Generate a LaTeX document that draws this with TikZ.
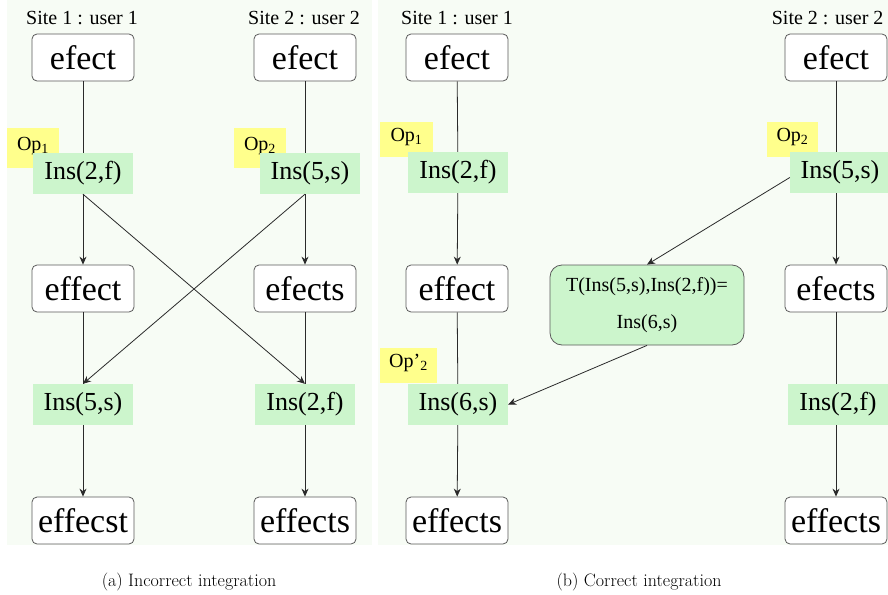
\documentclass[tikz,border=0pt]{standalone}
\usepackage{fontspec}
\newfontfamily\tnr{Liberation Serif}
\usetikzlibrary{arrows.meta}

\definecolor{panelbg}{HTML}{F7FCF5}
\definecolor{opgreen}{HTML}{CCF5CC}
\definecolor{tagyellow}{HTML}{FFFF8C}
\definecolor{boxgray}{HTML}{5A5A5A}
\definecolor{linegray}{HTML}{2A2A2A}

\begin{document}
\begin{tikzpicture}[x=1pt, y=-1pt,
    state/.style={draw=boxgray, line width=0.8pt, rounded corners=5pt, fill=white,
      minimum width=102pt, minimum height=47pt, inner sep=0pt,
      font=\tnr\fontsize{34}{40}\selectfont},
    oper/.style={fill=opgreen, minimum width=100pt, minimum height=41pt, inner sep=0pt,
      font=\tnr\fontsize{26}{30}\selectfont},
    tag/.style={fill=tagyellow, minimum width=52pt, minimum height=40pt, inner sep=0pt,
      text height=13pt, text depth=9pt, font=\tnr\fontsize{20}{24}\selectfont},
    tbox/.style={draw=boxgray, line width=0.8pt, fill=opgreen, rounded corners=12pt,
      minimum width=194pt, minimum height=80pt, align=center,
      font=\tnr\fontsize{20}{37}\selectfont},
    site/.style={font=\tnr\fontsize{20}{24}\selectfont},
    link/.style={draw=linegray, line width=0.8pt},
    flow/.style={link, -{Stealth[length=8pt, width=7pt]}},
    caption/.style={font=\fontsize{18}{21}\selectfont}]

    \useasboundingbox (0,0) rectangle (888,594);

    % Panels
    \fill[panelbg] (7,0) rectangle (372,545);
    \fill[panelbg] (378,0) rectangle (888,545);

    % (a) left panel
    \node[site] (siteA1) at (82,18) {Site 1 : user 1};
    \node[site] (siteA2) at (304,18) {Site 2 : user 2};

    \node[state] (a1) at (83,57.5) {efect};
    \node[state] (a2) at (305,57.5) {efect};
    \node[tag] (opA1) at (33,148) {Op\textsubscript{1}};
    \node[tag] (opA2) at (260,148) {Op\textsubscript{2}};
    \node[oper] (insA1) at (83,173.5) {Ins(2,f)};
    \node[oper] (insA2) at (310,173.5) {Ins(5,s)};
    \node[state] (a3) at (83,288.5) {effect};
    \node[state] (a4) at (305,288.5) {efects};
    \node[oper] (insA3) at (83,404.5) {Ins(5,s)};
    \node[oper] (insA4) at (305,404.5) {Ins(2,f)};
    \node[state] (a5) at (83,520.5) {effecst};
    \node[state] (a6) at (305,520.5) {effects};

    \draw[link] (a1) -- (insA1);
    \draw[flow] (insA1) -- (a3);
    \draw[link] (a3) -- (insA3);
    \draw[flow] (insA3) -- (a5);
    \draw[link] (a2) -- (a2 |- insA2.north);
    \draw[flow] (a2 |- insA2.south) -- (a4);
    \draw[link] (a4) -- (insA4);
    \draw[flow] (insA4) -- (a6);
    % crossing operations
    \draw[flow] (insA1.south) -- (insA4.north);
    \draw[flow] (a2 |- insA2.south) -- (insA3.north);

    % (b) right panel
    \node[site] (siteB1) at (457,18) {Site 1 : user 1};
    \node[site, anchor=east] (siteB2) at (887,18) {Site 2 : user 2};

    \node[state] (b1) at (457,57.5) {efect};
    \node[state] (b2) at (836,57.5) {efect};
    \node[tag, minimum width=53pt, minimum height=35pt] (opB1) at (406.5,139.5) {Op\textsubscript{1}};
    \node[tag, minimum width=51pt, minimum height=35pt] (opB2) at (792.5,139.5) {Op\textsubscript{2}};
    \node[oper] (insB1) at (458,172.5) {Ins(2,f)};
    \node[oper] (insB2) at (840,172.5) {Ins(5,s)};
    \node[state] (b3) at (457,288.5) {effect};
    \node[state] (b4) at (836,288.5) {efects};
    \node[tbox] (trans) at (647,305) {T(Ins(5,s),Ins(2,f))=\\Ins(6,s)};
    \node[tag, minimum width=57pt, minimum height=35pt] (opB3) at (408.5,365.5) {Op’\textsubscript{2}};
    \node[oper] (insB3) at (458,404.5) {Ins(6,s)};
    \node[oper] (insB4) at (838,404.5) {Ins(2,f)};
    \node[state] (b5) at (457,520.5) {effects};
    \node[state] (b6) at (836,520.5) {effects};

    \draw[link] (b1) -- (insB1);
    \draw[flow] (insB1) -- (b3);
    \draw[link] (b3) -- (insB3);
    \draw[flow] (insB3) -- (b5);
    \draw[link] (b2) -- (b2 |- insB2.north);
    \draw[flow] (b2 |- insB2.south) -- (b4);
    \draw[link] (b4) -- (b4 |- insB4.north);
    \draw[flow] (b4 |- insB4.south) -- (b6);
    % transformation
    \draw[flow] ([yshift=-5pt]insB2.west) -- (trans.north);
    \draw[flow] (trans.south) -- (insB3.east);

    % Captions
    \node[caption] (capA) at (189,582) {(a) Incorrect integration};
    \node[caption] (capB) at (639,582) {(b) Correct integration};

\end{tikzpicture}
\end{document}
